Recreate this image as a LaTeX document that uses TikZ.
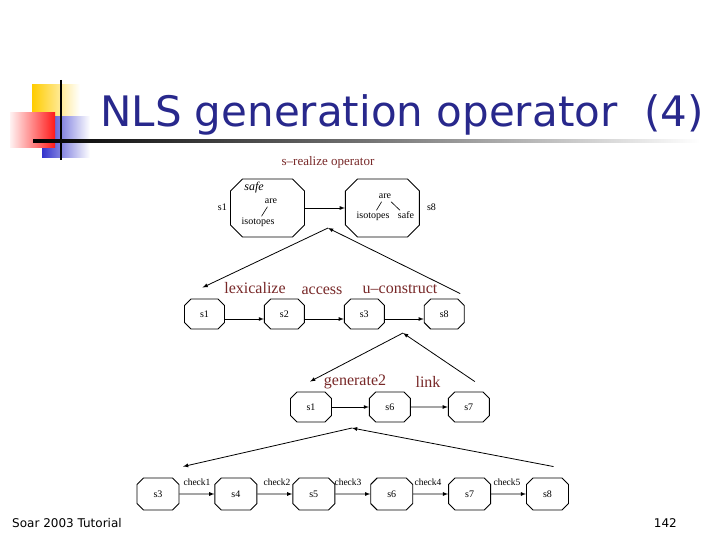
\documentclass[tikz,border=0pt]{standalone}
\usepackage{fontspec}
\setmainfont{Liberation Serif}
\newfontfamily\titlefont{DejaVu Sans}
\newfontfamily\footfont{DejaVu Sans}
\usepackage{xcolor}
\usepackage{tikz}
\usetikzlibrary{shapes.misc,arrows,positioning}

\definecolor{titleblue}{RGB}{40,40,140}
\definecolor{opred}{RGB}{120,40,40}
\definecolor{decoyellow}{RGB}{255,204,0}
\definecolor{decoblue}{RGB}{51,51,204}

\begin{document}
\begin{tikzpicture}[
    x=1pt, y=-1pt,
    box/.style={chamfered rectangle, chamfered rectangle xsep=6pt, draw, line width=0.9pt, minimum width=40pt, minimum height=30pt, inner sep=0pt, font=\fontsize{10}{12}\selectfont},
    bigbox/.style={chamfered rectangle, chamfered rectangle sep=6pt, draw, line width=0.9pt, inner xsep=31pt, inner ysep=23pt},
    arrow/.style={-latex, line width=0.8pt},
    op/.style={text=opred, font=\fontsize{16}{18}\selectfont},
    chk/.style={font=\fontsize{9.5}{11}\selectfont, inner sep=1pt},
    leaf/.style={font=\fontsize{10}{12}\selectfont, inner sep=1pt, text height=7pt, text depth=2pt}
]
\useasboundingbox[fill=white] (0,0) rectangle (720,540);

% slide decoration
\shade[left color=decoyellow, right color=white] (32,85) rectangle (80,117);
\shade[left color=decoblue, right color=white] (42,117) rectangle (90,158);
\shade[left color=red!5, right color=red!90] (10,113) rectangle (55,148);
\draw[line width=2pt] (61,80) -- (61,160);
\shade[left color=black, right color=white, middle color=black!55] (33,139.8) rectangle (700,142.2);

\node[anchor=base west, inner sep=0pt, text=titleblue, font=\titlefont\fontsize{42}{44}\selectfont] (title) at (100,127) {NLS generation operator\ \ (4)};

% s-realize
\node[text=opred, font=\fontsize{13}{15}\selectfont] (sreal) at (328,162) {s--realize operator};
\node[bigbox] (t1) at (267.5,208) {};
\node[bigbox, right=40pt of t1] (t8) {};
\node[leaf, left=2pt of t1] (t1lab) {s1};
\node[leaf, right=6pt of t8] (t8lab) {s8};
\node[leaf, font=\fontsize{12}{14}\selectfont\itshape] (safe1) at (254,188) {safe};
\node[leaf] (are1) at (271,201) {are};
\node[leaf] (iso1) at (258,222) {isotopes};
\node[leaf] (are8) at (385,196) {are};
\node[leaf] (iso8) at (373,216) {isotopes};
\node[leaf] (safe8) at (406,216) {safe};
\draw[line width=0.6pt] (are1) -- (iso1);
\draw[line width=0.6pt] (are8) -- (iso8);
\draw[line width=0.6pt] (are8) -- (safe8);
\draw[arrow] (t1) -- (t8);

% lexicalize / access / u-construct
\node[box] (a1) at (204.5,314) {s1};
\node[box, right=39pt of a1] (a2) {s2};
\node[box, right=39pt of a2] (a3) {s3};
\node[box, right=39pt of a3] (a8) {s8};
\node[op] (lex) at (255,288) {lexicalize};
\node[op] (acc) at (322,291) {access};
\node[op] (ucon) at (400,289) {u--construct};
\draw[arrow] ([yshift=-5pt]a1.east) -- ([yshift=-5pt]a2.west);
\draw[arrow] ([yshift=-5pt]a2.east) -- ([yshift=-5pt]a3.west);
\draw[arrow] ([yshift=-5pt]a3.east) -- ([yshift=-5pt]a8.west);
\coordinate (apexA) at (328,228);
\draw[arrow] (apexA) -- ([shift={(-2pt,11pt)}]a1.north);
\draw[arrow] ([shift={(16pt,5pt)}]a8.north) -- (apexA);

% generate2 / link
\node[box, minimum width=41pt] (b1) at (311,407) {s1};
\node[box, minimum width=41pt, right=37pt of b1] (b6) {s6};
\node[box, minimum width=41pt, right=37pt of b6] (b7) {s7};
\node[op] (gen) at (355,382) {generate2};
\node[op] (lnk) at (428,382) {link};
\draw[arrow] (b1) -- (b6);
\draw[arrow] (b6) -- (b7);
\coordinate (apexB) at (403,333);
\draw[arrow] (apexB) -- ([shift={(-1pt,10pt)}]b1.north);
\draw[arrow] ([shift={(6pt,10pt)}]b7.north) -- (apexB);

% checks
\node[box, minimum width=42pt, minimum height=32pt] (c3) at (158,494) {s3};
\node[box, minimum width=42pt, minimum height=32pt, right=35pt of c3] (c4) {s4};
\node[box, minimum width=42pt, minimum height=32pt, right=35pt of c4] (c5) {s5};
\node[box, minimum width=42pt, minimum height=32pt, right=35pt of c5] (c6) {s6};
\node[box, minimum width=42pt, minimum height=32pt, right=35pt of c6] (c7) {s7};
\node[box, minimum width=42pt, minimum height=32pt, right=35pt of c7] (c8) {s8};
\node[chk] (chk1) at (197,482) {check1};
\node[chk] (chk2) at (277,482) {check2};
\node[chk] (chk3) at (348,482) {check3};
\node[chk] (chk4) at (428,482) {check4};
\node[chk] (chk5) at (507,482) {check5};
\draw[arrow] (c3) -- (c4);
\draw[arrow] (c4) -- (c5);
\draw[arrow] (c5) -- (c6);
\draw[arrow] (c6) -- (c7);
\draw[arrow] (c7) -- (c8);
\coordinate (apexC) at (352,428);
\draw[arrow] (apexC) -- ([shift={(25pt,11pt)}]c3.north);
\draw[arrow] ([shift={(6pt,11pt)}]c8.north) -- (apexC);

% footer
\node[anchor=base west, inner sep=0pt, font=\footfont\fontsize{12}{14}\selectfont] (foot) at (12,527) {Soar 2003 Tutorial};
\node[anchor=base east, inner sep=0pt, font=\footfont\fontsize{12}{14}\selectfont] (pageno) at (677,527) {142};
\end{tikzpicture}
\end{document}
